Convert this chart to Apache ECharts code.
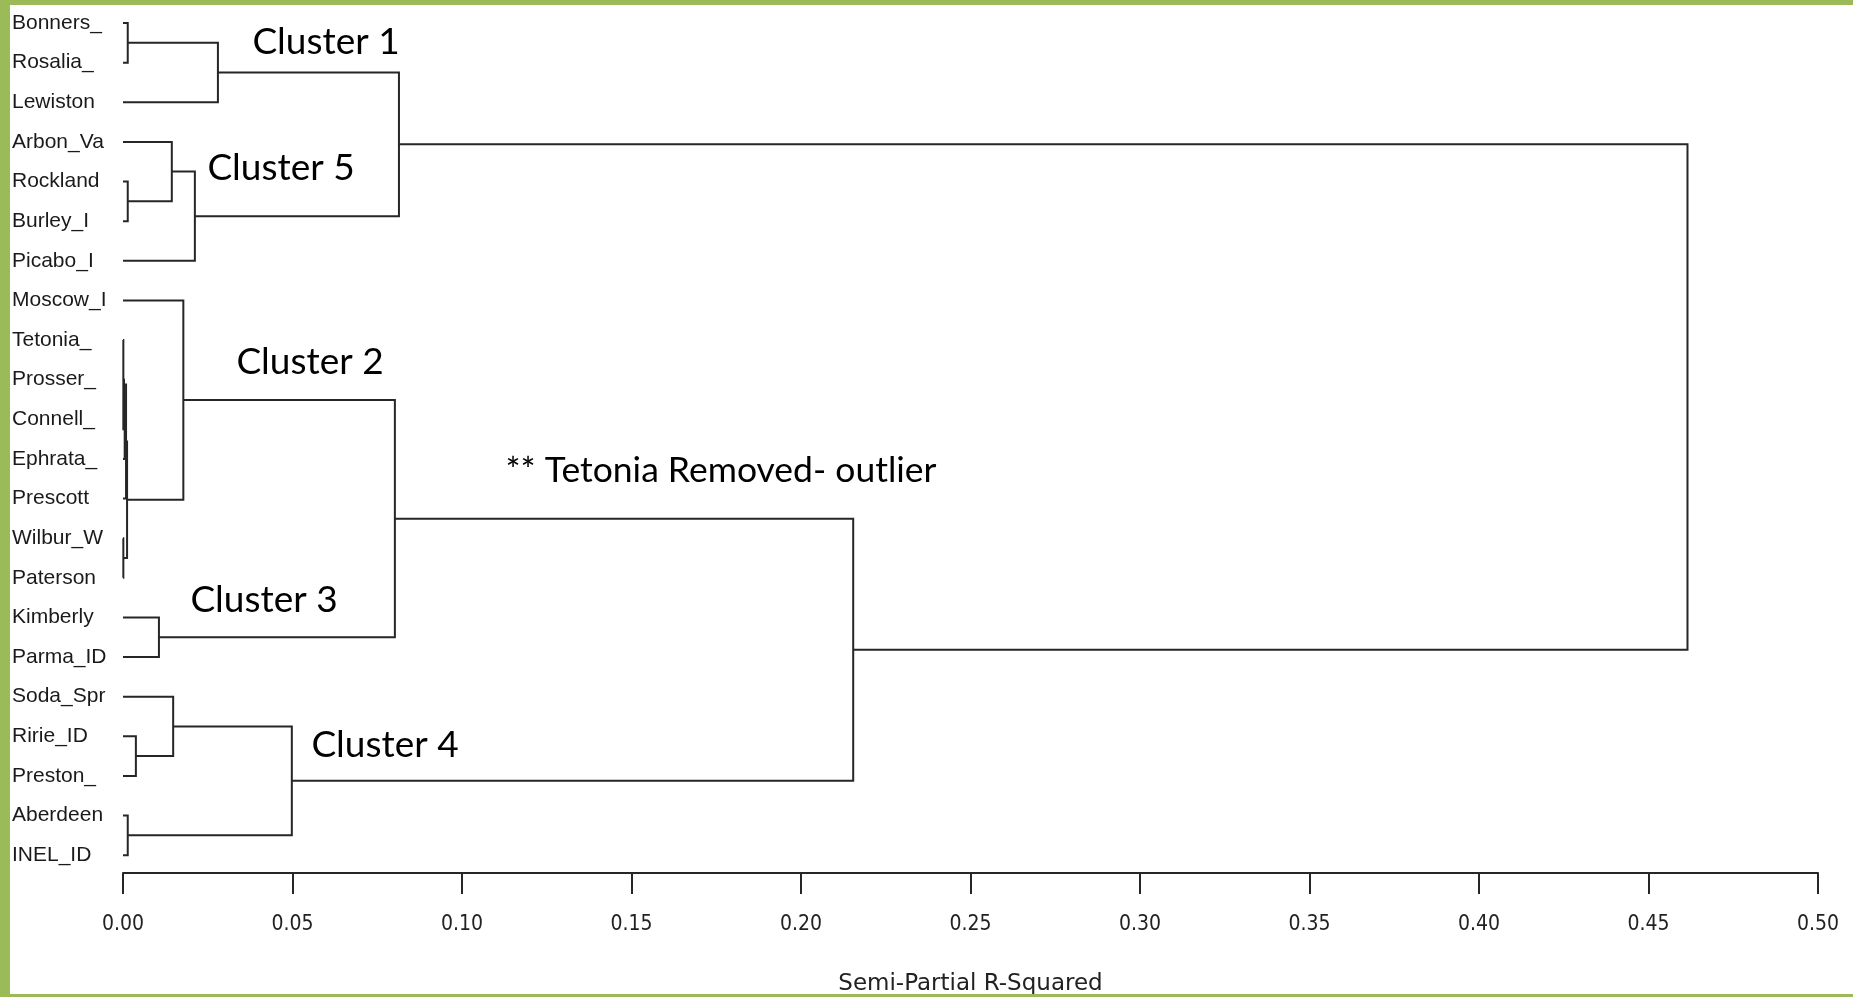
<!DOCTYPE html>
<html>
<head>
<meta charset="utf-8">
<title>Ward Cluster Dendrogram</title>
<script src="https://cdn.jsdelivr.net/npm/echarts/dist/echarts.min.js"></script>
<style>
  html, body { margin: 0; padding: 0; background: #ffffff; }
  #chart { width: 1853px; height: 997px; }
</style>
</head>
<body>
<div id="chart"></div>
<script>
// Sites, listed top to bottom in tree order
const leaves = [
  'Bonners_', 'Rosalia_', 'Lewiston', 'Arbon_Va', 'Rockland', 'Burley_I', 'Picabo_I',
  'Moscow_I', 'Tetonia_', 'Prosser_', 'Connell_', 'Ephrata_', 'Prescott', 'Wilbur_W',
  'Paterson', 'Kimberly', 'Parma_ID', 'Soda_Spr', 'Ririe_ID', 'Preston_', 'Aberdeen', 'INEL_ID'
];

// Agglomeration steps: new node name, its two children, semi-partial R-squared at the join
const mergeNames   = ['BR', 'C1', 'RB', 'ARB', 'C5', 'C15',
                      'PC', 'PCE', 'TPCE', 'TP', 'WP', 'TW', 'C2',
                      'C3', 'C23', 'RP', 'SRP', 'AI', 'C4', 'C234', 'ROOT'];
const mergeLeft    = ['Bonners_', 'BR', 'Rockland', 'Arbon_Va', 'ARB', 'C1',
                      'Prosser_', 'PC', 'Tetonia_', 'TPCE', 'Wilbur_W', 'TP', 'Moscow_I',
                      'Kimberly', 'C2', 'Ririe_ID', 'Soda_Spr', 'Aberdeen', 'SRP', 'C23', 'C15'];
const mergeRight   = ['Rosalia_', 'Lewiston', 'Burley_I', 'RB', 'Picabo_I', 'C5',
                      'Connell_', 'Ephrata_', 'PCE', 'Prescott', 'Paterson', 'WP', 'TW',
                      'Parma_ID', 'C3', 'Preston_', 'RP', 'INEL_ID', 'AI', 'C4', 'C234'];
const mergeHeights = [0.0014, 0.0280, 0.0014, 0.0144, 0.0212, 0.0814,
                      0.0003, 0.0005, 0.0001, 0.0009, 0.0001, 0.0012, 0.0178,
                      0.0106, 0.0802, 0.0038, 0.0148, 0.0014, 0.0498, 0.2154, 0.4615];

// Axis ticks
const xTicks = [0, 0.05, 0.10, 0.15, 0.20, 0.25, 0.30, 0.35, 0.40, 0.45, 0.50];

// Cluster annotations
const annotations = ['Cluster 1', 'Cluster 5', 'Cluster 2', '** Tetonia Removed- outlier', 'Cluster 3', 'Cluster 4'];

// Node lookup: leaves sit at height 0 at their row index,
// joined nodes sit midway between their children.
const nodes = {};
leaves.forEach((name, i) => { nodes[name] = { h: 0, y: i }; });
const links = [];
mergeNames.forEach((name, i) => {
  const a = nodes[mergeLeft[i]];
  const b = nodes[mergeRight[i]];
  const h = mergeHeights[i];
  nodes[name] = { h: h, y: (a.y + b.y) / 2 };
  // [child A height, child A row, join height, child B row, child B height]
  links.push([a.h, a.y, h, b.y, b.h]);
});

const lineColor = '#262626';
const frameGreen = '#9bbb59';

const chart = echarts.init(document.getElementById('chart'), null, { renderer: 'canvas' });

const annoFont = '"Lato", "Open Sans", sans-serif';
const annoPos = [[326, 42], [281, 168], [310, 362], [721, 471], [264, 600], [385, 745]];
const annoSize = [37, 37, 37, 35.5, 37, 37];

chart.setOption({
  backgroundColor: '#ffffff',
  animation: false,
  grid: { left: 123, right: 35, top: 23, bottom: 124, containLabel: false, outerBoundsMode: 'none' },
  xAxis: {
    type: 'value',
    position: 'bottom',
    min: xTicks[0],
    max: xTicks[xTicks.length - 1],
    interval: 0.05,
    name: 'Semi-Partial R-Squared',
    nameLocation: 'middle',
    nameGap: 100,
    nameTextStyle: {
      fontFamily: '"DejaVu Sans", sans-serif',
      fontSize: 23,
      color: '#222',
      verticalAlign: 'top'
    },
    axisLine: { show: true, onZero: false, lineStyle: { color: lineColor, width: 2 } },
    axisTick: { show: true, length: 21, lineStyle: { color: lineColor, width: 2 } },
    axisLabel: {
      margin: 41,
      fontFamily: '"Liberation Sans Narrow", "DejaVu Sans Condensed", sans-serif',
      fontSize: 21,
      color: '#222',
      formatter: v => v.toFixed(2)
    },
    splitLine: { show: false }
  },
  yAxis: {
    type: 'value',
    inverse: true,
    min: 0,
    max: 21.45,
    interval: 1,
    axisLine: { show: false },
    axisTick: { show: false },
    splitLine: { show: false },
    axisLabel: {
      align: 'left',
      margin: 111,
      fontFamily: '"Liberation Sans", Arial, sans-serif',
      fontSize: 21,
      color: '#1a1a1a',
      showMaxLabel: false,
      formatter: v => {
        const i = Math.round(v);
        return Math.abs(v - i) < 1e-6 && leaves[i] !== undefined ? leaves[i] : '';
      }
    }
  },
  series: [{
    type: 'custom',
    coordinateSystem: 'cartesian2d',
    clip: false,
    encode: { x: [0, 2, 4], y: [1, 3] },
    data: links,
    renderItem: (params, api) => {
      const p0 = api.coord([api.value(0), api.value(1)]);
      const p1 = api.coord([api.value(2), api.value(1)]);
      const p2 = api.coord([api.value(2), api.value(3)]);
      const p3 = api.coord([api.value(4), api.value(3)]);
      return {
        type: 'polyline',
        shape: { points: [p0, p1, p2, p3] },
        style: { stroke: lineColor, lineWidth: 2, fill: null }
      };
    }
  }],
  graphic: [
    { type: 'rect', left: 0, top: 0, shape: { width: 10, height: 997 }, style: { fill: frameGreen }, z: 10 },
    { type: 'rect', left: 0, top: 0, shape: { width: 1853, height: 5 }, style: { fill: frameGreen }, z: 10 },
    { type: 'rect', left: 0, top: 994, shape: { width: 1853, height: 3 }, style: { fill: frameGreen }, z: 10 }
  ].concat(annotations.map((t, i) => ({
    type: 'text',
    x: annoPos[i][0],
    y: annoPos[i][1],
    z: 10,
    style: {
      text: t,
      fill: '#000',
      font: annoSize[i] + 'px ' + annoFont,
      textAlign: 'center',
      textVerticalAlign: 'middle'
    }
  })))
});
</script>
</body>
</html>
